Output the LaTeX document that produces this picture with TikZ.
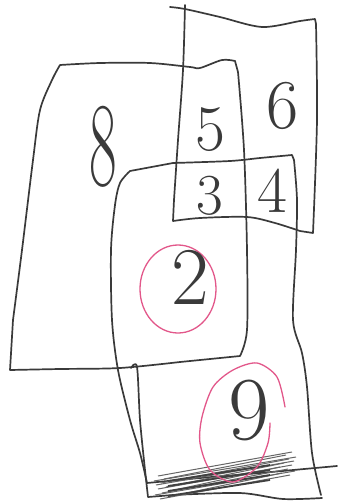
\documentclass[tikz,border=0pt]{standalone}
\usepackage{fontspec}
\usepackage{graphicx}
\usepackage{xcolor}
\usepackage{tikz}
\definecolor{PenGrey}{HTML}{3A3A3A}
\definecolor{MarkPink}{HTML}{E2578A}

\begin{document}
\begin{tikzpicture}[
  x=1pt, y=-1pt,
  sketch/.style={draw=PenGrey, line width=1.7pt, line join=round, line cap=round},
  ring/.style={draw=MarkPink, line width=1.3pt, line cap=round},
  num/.style={inner sep=0pt, text=PenGrey, font=\fontsize{#1}{#1}\selectfont}
]
\useasboundingbox (0,0) rectangle (338,504);

% box A (5 6 / 3 4)
\draw[sketch] plot[smooth] coordinates {(170,7) (185,9) (220,17) (262,27) (300,21) (315,19)}
  -- plot[smooth] coordinates {(316,24) (317,120) (313,233)}
  -- plot[smooth] coordinates {(300,231) (275,223) (247,217) (200,218) (173,221)}
  -- plot[smooth] coordinates {(174,200) (178,140) (183,70) (185,5)};

% box B (8)
\draw[sketch] plot[smooth] coordinates {(60,65) (100,63) (150,63) (190,67) (200,68) (222,60) (235,61)}
  -- plot[smooth] coordinates {(238,72) (244,150) (247,250) (247,330) (240,356)}
  -- plot[smooth] coordinates {(180,362) (120,368) (60,369) (10,370)}
  -- plot[smooth] coordinates {(13,320) (22,250) (33,160) (40,110) (52,80) (60,65)};

% box C (2)
\draw[sketch] plot[smooth] coordinates {(147,483) (140,453) (130,420) (118,370) (112,320) (111,250) (115,205) (120,183) (130,171)}
  -- plot[smooth] coordinates {(173,163) (230,161) (260,158) (292,155)}
  -- plot[smooth] coordinates {(294,160) (297,200) (296,250) (293,320) (302,353) (307,387) (312,453) (321,495)};
\draw[sketch] plot[smooth] coordinates {(147,483) (200,478) (260,473) (337,466)};

% box D (9)
\draw[sketch] plot[smooth] coordinates {(131,368) (137,367) (140,420) (145,470) (148,497)}
  -- plot[smooth] coordinates {(173,495) (240,493) (283,499) (322,498)};

% scribble
\foreach \dy/\dx in {0/0, 3/6, 5/-4, 7/3, 9/-2, 11/8, 13/0, 15/12, 17/4, 19/-3, 21/10, 23/2}
  \draw[draw=black!60, line width=1pt] (158+\dx,476+\dy) -- (292-\dx,452+\dy);
\foreach \dy in {3, 8, 13, 18}
  \draw[draw=black!75, line width=1.8pt] (168,478+\dy) -- (270,462+\dy);

% rings
\draw[ring] (178,289) ellipse [x radius=38, y radius=44];
\draw[ring] plot[smooth] coordinates {(270,423) (268,443) (257,467) (233,482) (210,470) (200,443) (202,417) (213,387) (233,370) (257,363) (277,377) (285,407)};

% labels
\node[num=120] (eight) at (103,147) {\scalebox{0.5}[1]{8}};
\node[num=65] (five) at (210,130) {5};
\node[num=70] (six) at (283,106) {6};
\node[num=58] (three) at (210,196) {3};
\node[num=65] (four) at (272,191) {4};
\node[num=82] (two) at (190,277) {2};
\node[num=90] (nine) at (249,410) {9};
\end{tikzpicture}
\end{document}
